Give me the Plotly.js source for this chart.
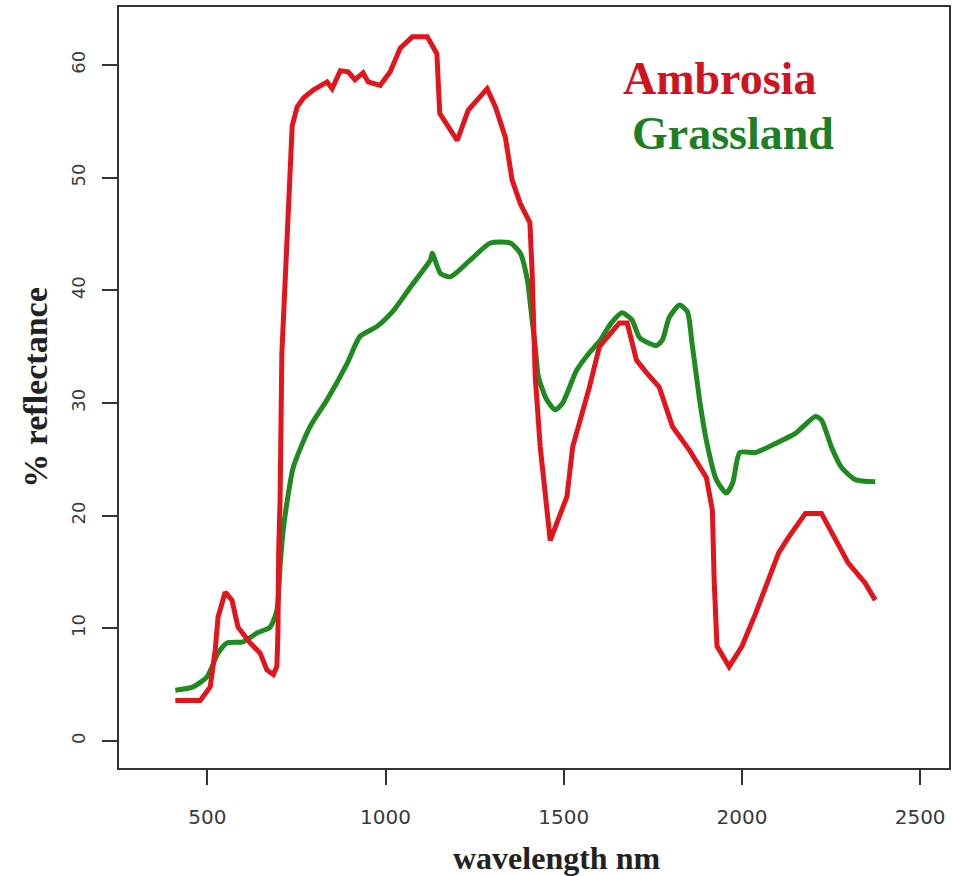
<!DOCTYPE html>
<html>
<head>
<meta charset="utf-8">
<script src="https://cdn.plot.ly/plotly-3.0.1.min.js"></script>
<style>html,body{margin:0;padding:0;background:#fff;}#chart{width:955px;height:876px;}</style>
</head>
<body>
<div id="chart"></div>
<script>
// Ambrosia spectrum (wavelength nm, % reflectance)
const ambrosiaWl = [410, 480, 508, 522, 530, 550, 569, 586, 620, 648, 667, 685, 695, 698, 700, 704, 709, 718, 727, 738, 752, 770, 798, 836, 850, 873, 895, 914, 937, 951, 985, 1013, 1041, 1075, 1117, 1144, 1152, 1201, 1232, 1285, 1308, 1336, 1355, 1378, 1405, 1411, 1420, 1434, 1462, 1509, 1525, 1572, 1600, 1656, 1678, 1704, 1732, 1768, 1805, 1853, 1900, 1917, 1922, 1930, 1964, 2000, 2038, 2103, 2131, 2178, 2223, 2262, 2298, 2346, 2374];
const ambrosiaRef = [3.6, 3.6, 4.8, 8.1, 11.0, 13.2, 12.5, 10.1, 8.7, 7.8, 6.3, 5.9, 6.6, 9.6, 16.7, 21.4, 34.4, 40.3, 46.2, 54.6, 56.3, 57.1, 57.8, 58.5, 57.9, 59.5, 59.4, 58.7, 59.3, 58.5, 58.2, 59.4, 61.5, 62.5, 62.5, 61.0, 55.7, 53.3, 56.0, 57.9, 56.3, 53.6, 49.8, 47.7, 46.0, 41.8, 32.3, 26.1, 17.8, 21.7, 26.1, 31.4, 35.0, 37.1, 37.1, 33.8, 32.7, 31.4, 27.9, 25.8, 23.4, 20.5, 14.3, 8.4, 6.6, 8.4, 11.3, 16.7, 18.1, 20.2, 20.2, 17.8, 15.8, 14.0, 12.5];

// Grassland spectrum
const grassWl = [410, 460, 499, 530, 555, 600, 640, 676, 695, 704, 712, 723, 741, 788, 836, 892, 928, 976, 1022, 1070, 1126, 1131, 1154, 1182, 1238, 1294, 1350, 1378, 1398, 1411, 1420, 1429, 1452, 1476, 1497, 1536, 1573, 1603, 1631, 1663, 1691, 1713, 1760, 1777, 1796, 1825, 1847, 1860, 1881, 1900, 1928, 1956, 1974, 1994, 2038, 2094, 2150, 2206, 2223, 2251, 2279, 2318, 2374];
const grassRef = [4.5, 4.8, 5.7, 7.8, 8.7, 8.8, 9.6, 10.1, 11.6, 15.5, 18.5, 21.1, 24.3, 27.9, 30.3, 33.5, 35.9, 36.8, 38.2, 40.3, 42.7, 43.3, 41.5, 41.2, 42.7, 44.2, 44.2, 43.3, 40.9, 37.4, 35.0, 32.3, 30.3, 29.4, 30.0, 32.9, 34.5, 35.6, 37.0, 38.0, 37.4, 35.8, 35.1, 35.6, 37.6, 38.7, 38.1, 35.3, 30.3, 26.7, 23.2, 22.0, 22.9, 25.6, 25.6, 26.4, 27.3, 28.8, 28.5, 26.1, 24.3, 23.2, 23.0];

const seriesNames = ['Ambrosia', 'Grassland'];
const xTicks = [500, 1000, 1500, 2000, 2500];
const yTicks = [0, 10, 20, 30, 40, 50, 60];

const RED = '#e3141c';
const GREEN = '#1f8a1f';

const traces = [
  {x: grassWl, y: grassRef, name: seriesNames[1], type: 'scatter', mode: 'lines',
   line: {color: GREEN, width: 5, shape: 'spline', smoothing: 0.6}},
  {x: ambrosiaWl, y: ambrosiaRef, name: seriesNames[0], type: 'scatter', mode: 'lines',
   line: {color: RED, width: 5, shape: 'linear'}}
];

const layout = {
  width: 955, height: 876,
  margin: {l: 119, r: 6, t: 7, b: 108},
  paper_bgcolor: '#fff', plot_bgcolor: '#fff',
  showlegend: false,
  xaxis: {
    range: [252, 2581], tickvals: xTicks, ticktext: xTicks.map(String),
    showgrid: false, zeroline: false,
    showline: true, mirror: true, linecolor: '#333', linewidth: 2,
    ticks: 'outside', ticklen: 15, tickwidth: 2, tickcolor: '#333',
    ticklabelstandoff: 15,
    tickfont: {family: 'DejaVu Sans', size: 20, color: '#3a3a3a'}
  },
  yaxis: {
    range: [-2.4, 65.15], tickvals: yTicks, ticktext: yTicks.map(String),
    showgrid: false, zeroline: false,
    showline: true, mirror: true, linecolor: '#333', linewidth: 2,
    ticks: 'outside', ticklen: 15, tickwidth: 2, tickcolor: '#333',
    tickangle: -90, ticklabelstandoff: 10,
    tickfont: {family: 'DejaVu Sans', size: 18, color: '#3a3a3a'},
    title: {text: '% reflectance', standoff: 10,
            font: {family: 'Liberation Serif', size: 34, color: '#222', weight: 'bold'}}
  },
  annotations: [
    {text: '<b>wavelength nm</b>', x: 0.527, y: 858, xref: 'paper', yref: 'paper',
     showarrow: false, xanchor: 'center', yanchor: 'middle',
     font: {family: 'Liberation Serif', size: 32, color: '#222'}},
    {text: '<b>' + seriesNames[0] + '</b>', x: 1660, y: 58.8, xref: 'x', yref: 'y',
     xanchor: 'left', yanchor: 'middle', showarrow: false,
     font: {family: 'Liberation Serif', size: 46, color: '#d0141f'}},
    {text: '<b>' + seriesNames[1] + '</b>', x: 1685, y: 53.9, xref: 'x', yref: 'y',
     xanchor: 'left', yanchor: 'middle', showarrow: false,
     font: {family: 'Liberation Serif', size: 46, color: '#1d7f25'}}
  ]
};
// place x-title annotation at pixel row 858 (paper coords from bottom of plot area)
const plotH = 876 - 7 - 108;
layout.annotations[0].y = -(858 - (876 - 108)) / plotH;

Plotly.newPlot('chart', traces, layout, {staticPlot: true, displayModeBar: false});
</script>
</body>
</html>
